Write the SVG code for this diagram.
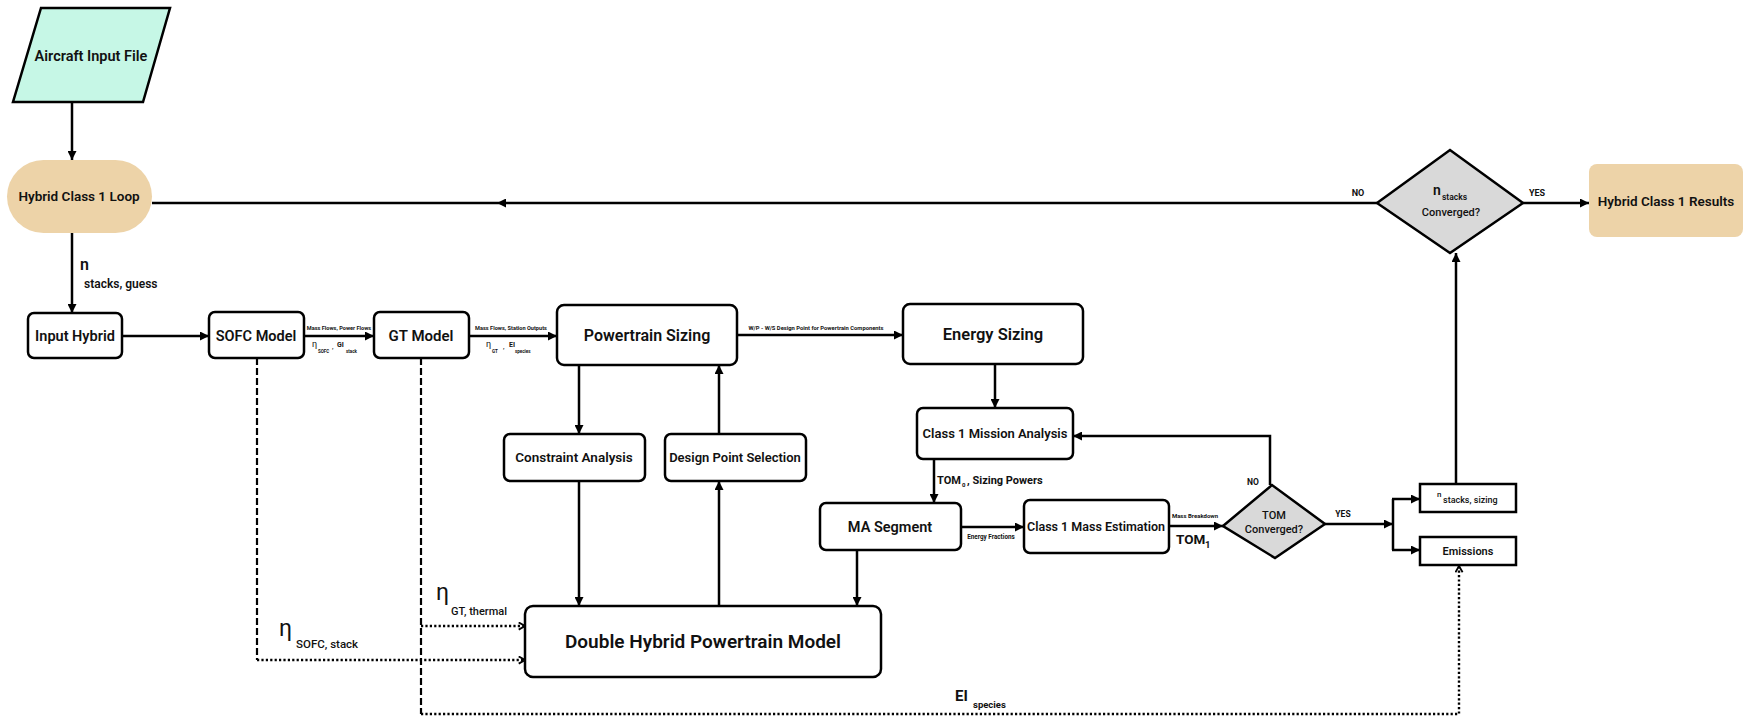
<svg xmlns="http://www.w3.org/2000/svg" width="1758" height="721" viewBox="0 0 1758 721">
  <defs>
    <marker id="ah" viewBox="0 0 10 10" refX="10" refY="5" markerWidth="9" markerHeight="9" markerUnits="userSpaceOnUse" orient="auto">
      <path d="M0,0 L10,5 L0,10 z" fill="#000"/>
    </marker>
    <marker id="ch" viewBox="0 0 10 10" refX="9" refY="5" markerWidth="9" markerHeight="9" markerUnits="userSpaceOnUse" orient="auto">
      <path d="M2,1 L9,5 L2,9" fill="none" stroke="#000" stroke-width="2"/>
    </marker>
  </defs>
  <style>
    text { font-family: Roboto, "Liberation Sans", sans-serif; fill: #111; }
    .box { fill: #fff; stroke: #000; stroke-width: 2.5; }
    .pill { fill: #EDD3A8; stroke: none; }
    .dia { fill: #D9D9D9; stroke: #000; stroke-width: 2.5; }
    .t { font-weight: 600; text-anchor: middle; }
    .lbl { font-weight: 700; }
    .c { text-anchor: middle; }
    .eta { font-weight: 400; }
    .ln { fill: none; stroke: #000; stroke-width: 2.5; }
    .arr { marker-end: url(#ah); }
    .dash { fill: none; stroke: #000; stroke-width: 2.2; stroke-dasharray: 7 3; }
    .dot { fill: none; stroke: #000; stroke-width: 2.4; stroke-dasharray: 2.2 2.2; }
    .darr { marker-end: url(#ch); }
  </style>

  <rect width="1758" height="721" fill="#fff"/>

  <!-- connectors -->
  <g id="connectors">
    <path class="ln arr" d="M72,102 V160"/>
    <path class="ln arr" d="M72,233 V313"/>
    <path class="ln arr" d="M122,336 H209"/>
    <path class="ln arr" d="M304,336 H374"/>
    <path class="ln arr" d="M469,336 H557"/>
    <path class="ln arr" d="M737,335 H903"/>
    <path class="ln arr" d="M579,365 V434"/>
    <path class="ln arr" d="M579,481 V606"/>
    <path class="ln arr" d="M719,606 V481"/>
    <path class="ln arr" d="M719,434 V365"/>
    <path class="ln arr" d="M995,364 V408"/>
    <path class="ln arr" d="M934,459 V503"/>
    <path class="ln arr" d="M857,550 V606"/>
    <path class="ln arr" d="M961,527 H1024"/>
    <path class="ln arr" d="M1169,526 H1223"/>
    <path class="ln arr" d="M1270,485 V436 H1073"/>
    <path class="ln arr" d="M1325,524 H1393"/>
    <path class="ln" d="M1393,499 V550"/>
    <path class="ln arr" d="M1392,499 H1420"/>
    <path class="ln arr" d="M1392,550 H1420"/>
    <path class="ln arr" d="M1456,484 V253"/>
    <path class="ln arr" d="M1377,203 H497"/>
    <path class="ln" d="M497,203 H152"/>
    <path class="ln arr" d="M1523,203 H1589"/>
    <!-- efficiency / emission feeds -->
    <path class="dash" d="M257,358 V660"/>
    <path class="dot darr" d="M257,660 H525"/>
    <path class="dash" d="M421,358 V714"/>
    <path class="dot darr" d="M421,626 H525"/>
    <path class="dot darr" d="M421,714 H1459 V566"/>
  </g>

  <!-- connector labels -->
  <g id="labels">
    <text x="80" y="270" font-size="16" font-weight="600">n</text>
    <text x="84" y="288" font-size="12" font-weight="600">stacks, guess</text>

    <text class="lbl c" x="339" y="330" font-size="5.6">Mass Flows, Power Flows</text>
    <text class="eta" x="312" y="347" font-size="9">η</text>
    <text class="lbl" x="318" y="353" font-size="4.5">SOFC</text>
    <text class="lbl" x="332" y="349" font-size="6">,</text>
    <text class="lbl" x="337" y="347" font-size="7">GI</text>
    <text class="lbl" x="346" y="353" font-size="4.5">stack</text>

    <text class="lbl c" x="511" y="330" font-size="5.6">Mass Flows, Station Outputs</text>
    <text class="eta" x="486" y="347" font-size="9">η</text>
    <text class="lbl" x="492" y="353" font-size="4.5">GT</text>
    <text class="lbl" x="503" y="349" font-size="6">,</text>
    <text class="lbl" x="509" y="347" font-size="7">EI</text>
    <text class="lbl" x="515" y="353" font-size="4.5">species</text>

    <text class="lbl c" x="816" y="330" font-size="5.8">W/P - W/S Design Point for Powertrain Components</text>

    <text class="lbl" x="937" y="484" font-size="11">TOM</text>
    <text class="lbl" x="962" y="487" font-size="6">0</text>
    <text class="lbl" x="967" y="484" font-size="11">, Sizing Powers</text>

    <text class="lbl c" x="991" y="539" font-size="6.3">Energy Fractions</text>
    <text class="lbl c" x="1195" y="518" font-size="6">Mass Breakdown</text>
    <text class="lbl" x="1176" y="544" font-size="13.5">TOM</text>
    <text class="lbl" x="1205" y="548" font-size="9.5">1</text>

    <text class="lbl c" x="1253" y="485" font-size="8.5">NO</text>
    <text class="lbl c" x="1343" y="517" font-size="8.5">YES</text>
    <text class="lbl c" x="1358" y="196" font-size="9">NO</text>
    <text class="lbl c" x="1537" y="196" font-size="9">YES</text>

    <text class="eta" x="436" y="600" font-size="23">η</text>
    <text x="451" y="615" font-size="11" font-weight="500">GT, thermal</text>
    <text class="eta" x="279" y="636" font-size="23">η</text>
    <text x="296" y="648" font-size="11.5" font-weight="500">SOFC, stack</text>

    <text class="lbl" x="955" y="701" font-size="15">EI</text>
    <text class="lbl" x="973" y="708" font-size="9.5">species</text>
  </g>

  <!-- nodes -->
  <g id="aircraft-input">
    <polygon points="41,8 170,8 143,102 13,102" fill="#C6F7E6" stroke="#000" stroke-width="2.5"/>
    <text class="t" x="91" y="61" font-size="14.5">Aircraft Input File</text>
  </g>
  <g id="hybrid-loop">
    <rect class="pill" x="7" y="160" width="145" height="73" rx="36.5"/>
    <text class="t" x="79" y="201" font-size="13.5">Hybrid Class 1 Loop</text>
  </g>
  <g id="input-hybrid">
    <rect class="box" x="28" y="313" width="94" height="45" rx="6"/>
    <text class="t" x="75" y="341" font-size="14.5">Input Hybrid</text>
  </g>
  <g id="sofc-model">
    <rect class="box" x="209" y="312" width="95" height="46" rx="6"/>
    <text class="t" x="256" y="341" font-size="14.5">SOFC Model</text>
  </g>
  <g id="gt-model">
    <rect class="box" x="374" y="312" width="95" height="46" rx="6"/>
    <text class="t" x="421" y="341" font-size="15">GT Model</text>
  </g>
  <g id="powertrain-sizing">
    <rect class="box" x="557" y="305" width="180" height="60" rx="7"/>
    <text class="t" x="647" y="341" font-size="16">Powertrain Sizing</text>
  </g>
  <g id="energy-sizing">
    <rect class="box" x="903" y="304" width="180" height="60" rx="7"/>
    <text class="t" x="993" y="340" font-size="16.5">Energy Sizing</text>
  </g>
  <g id="constraint-analysis">
    <rect class="box" x="504" y="434" width="141" height="47" rx="6"/>
    <text class="t" x="574" y="462" font-size="13.5">Constraint Analysis</text>
  </g>
  <g id="design-point-selection">
    <rect class="box" x="665" y="434" width="141" height="47" rx="6"/>
    <text class="t" x="735" y="462" font-size="13">Design Point Selection</text>
  </g>
  <g id="mission-analysis">
    <rect class="box" x="917" y="408" width="156" height="51" rx="6"/>
    <text class="t" x="995" y="438" font-size="13">Class 1 Mission Analysis</text>
  </g>
  <g id="ma-segment">
    <rect class="box" x="820" y="503" width="141" height="47" rx="6"/>
    <text class="t" x="890" y="532" font-size="14.5">MA Segment</text>
  </g>
  <g id="mass-estimation">
    <rect class="box" x="1024" y="500" width="145" height="53" rx="6"/>
    <text class="t" x="1096" y="531" font-size="12.5">Class 1 Mass Estimation</text>
  </g>
  <g id="tom-converged">
    <polygon class="dia" points="1223,526 1272,485 1325,524 1275,558"/>
    <text class="c" x="1274" y="519" font-size="11" font-weight="500">TOM</text>
    <text class="c" x="1274" y="533" font-size="11" font-weight="500">Converged?</text>
  </g>
  <g id="double-hybrid-model">
    <rect class="box" x="525" y="606" width="356" height="71" rx="8"/>
    <text class="t" x="703" y="648" font-size="19">Double Hybrid Powertrain Model</text>
  </g>
  <g id="nstacks-sizing">
    <rect x="1420" y="484" width="96" height="28" fill="#fff" stroke="#000" stroke-width="2.5"/>
    <text x="1437" y="497" font-size="8" font-weight="500">n</text>
    <text x="1443" y="503" font-size="9" font-weight="500">stacks, sizing</text>
  </g>
  <g id="emissions">
    <rect x="1420" y="537" width="96" height="28" fill="#fff" stroke="#000" stroke-width="2.5"/>
    <text class="t" x="1468" y="555" font-size="11">Emissions</text>
  </g>
  <g id="nstacks-converged">
    <polygon class="dia" points="1377,203 1450,150 1523,203 1450,253"/>
    <text x="1433" y="195" font-size="14" font-weight="600">n</text>
    <text x="1442" y="200" font-size="8.5" font-weight="600">stacks</text>
    <text class="c" x="1451" y="216" font-size="11" font-weight="500">Converged?</text>
  </g>
  <g id="hybrid-results">
    <rect class="pill" x="1589" y="164" width="154" height="73" rx="8"/>
    <text class="t" x="1666" y="206" font-size="13.5">Hybrid Class 1 Results</text>
  </g>
</svg>
